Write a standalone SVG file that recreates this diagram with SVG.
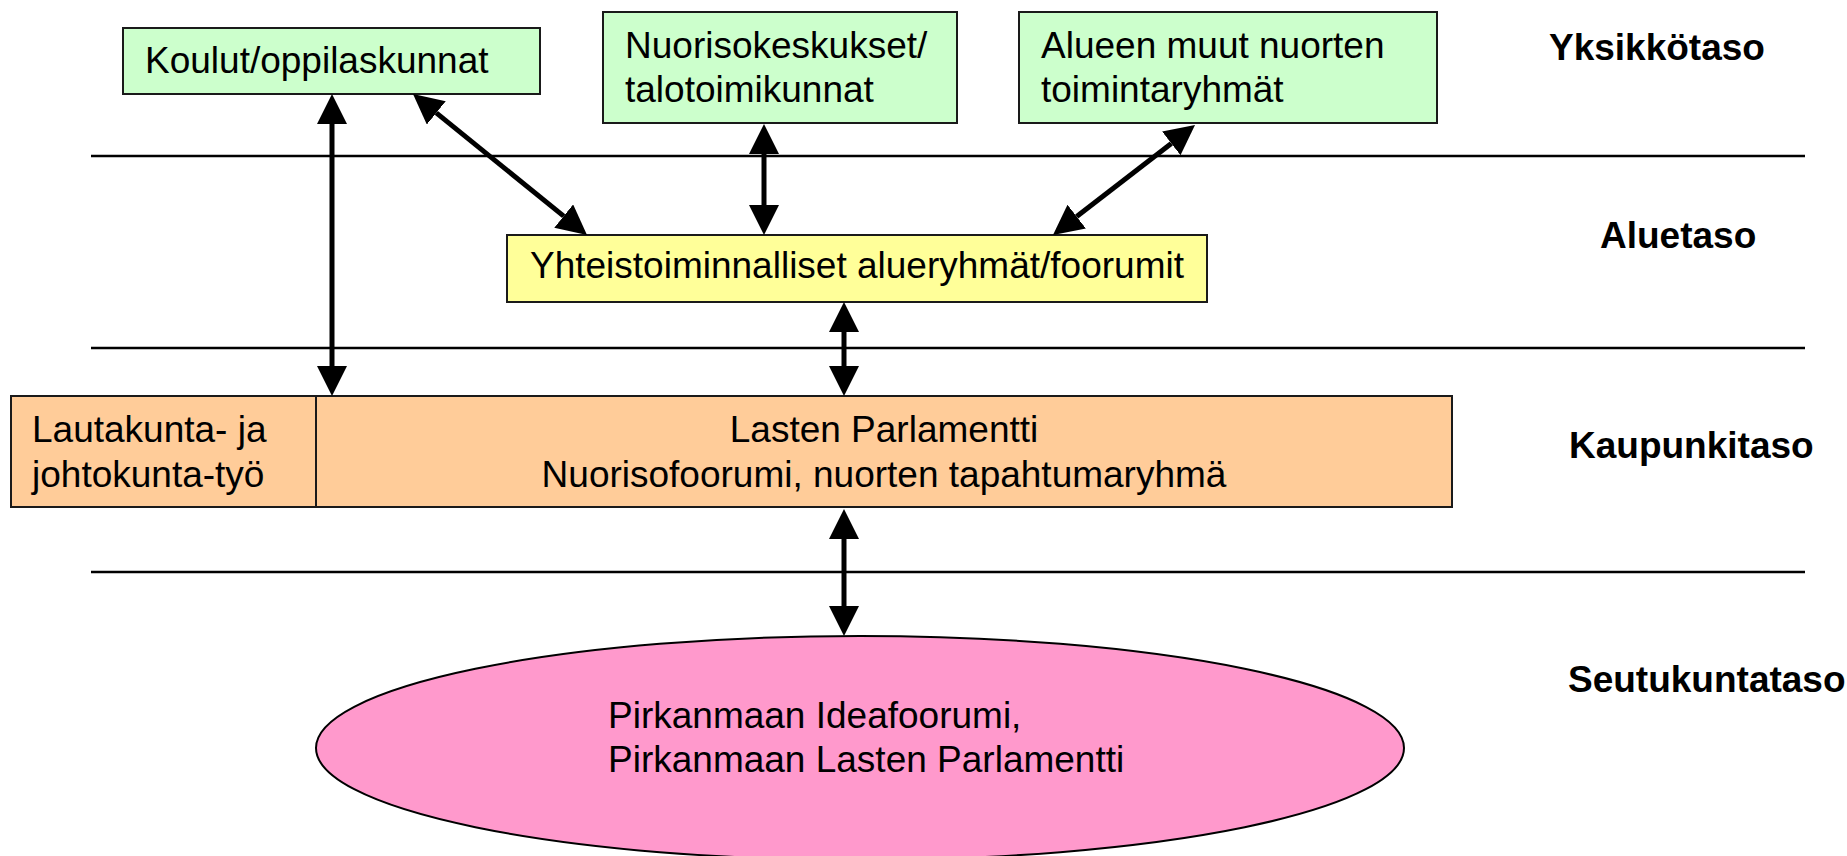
<svg xmlns="http://www.w3.org/2000/svg" width="1847" height="856" viewBox="0 0 1847 856">
<style>
.t{font-family:"Liberation Sans",Arial,sans-serif;font-size:37px;fill:#000}
.b{font-family:"Liberation Sans",Arial,sans-serif;font-size:37px;font-weight:bold;fill:#000}
.box{stroke:#1a1a1a;stroke-width:2}
.sep{stroke:#000;stroke-width:2.5}
.arr{stroke:#000;stroke-width:5;fill:none;marker-start:url(#ah);marker-end:url(#ah)}
</style>
<defs>
<marker id="ah" viewBox="0 0 30 30" refX="0" refY="15" markerWidth="30" markerHeight="30" markerUnits="userSpaceOnUse" orient="auto-start-reverse">
<path d="M0,0 L30,15 L0,30 z" fill="#000"/>
</marker>
</defs>
<rect width="1847" height="856" fill="#fff"/>
<g id="levels">
<line class="sep" x1="91" y1="156" x2="1805" y2="156"/>
<line class="sep" x1="91" y1="348" x2="1805" y2="348"/>
<line class="sep" x1="91" y1="572" x2="1805" y2="572"/>
<text class="b" x="1549" y="60">Yksikkötaso</text>
<text class="b" x="1600" y="248">Aluetaso</text>
<text class="b" x="1569" y="458">Kaupunkitaso</text>
<text class="b" x="1568" y="692">Seutukuntataso</text>
</g>
<g id="koulut">
<rect class="box" x="123" y="28" width="417" height="66" fill="#CCFFCC"/>
<text class="t" x="145" y="73">Koulut/oppilaskunnat</text>
</g>
<g id="nuorisokeskukset">
<rect class="box" x="603" y="12" width="354" height="111" fill="#CCFFCC"/>
<text class="t" x="625" y="58">Nuorisokeskukset/</text>
<text class="t" x="625" y="102">talotoimikunnat</text>
</g>
<g id="alueen">
<rect class="box" x="1019" y="12" width="418" height="111" fill="#CCFFCC"/>
<text class="t" x="1041" y="58">Alueen muut nuorten</text>
<text class="t" x="1041" y="102">toimintaryhmät</text>
</g>
<g id="alueryhmat">
<rect class="box" x="507" y="235" width="700" height="67" fill="#FFFF99"/>
<text class="t" x="530" y="278">Yhteistoiminnalliset alueryhmät/foorumit</text>
</g>
<g id="lautakunta">
<rect class="box" x="11" y="396" width="305" height="111" fill="#FFCC99"/>
<text class="t" x="32" y="442">Lautakunta- ja</text>
<text class="t" x="32" y="487">johtokunta-työ</text>
</g>
<g id="parlamentti">
<rect class="box" x="316" y="396" width="1136" height="111" fill="#FFCC99"/>
<text class="t" x="884" y="442" text-anchor="middle">Lasten Parlamentti</text>
<text class="t" x="884" y="487" text-anchor="middle">Nuorisofoorumi, nuorten tapahtumaryhmä</text>
</g>
<g id="pirkanmaa">
<ellipse cx="860" cy="748" rx="544" ry="112" fill="#FF99CC" stroke="#000" stroke-width="2"/>
<text class="t" x="608" y="728">Pirkanmaan Ideafoorumi,</text>
<text class="t" x="608" y="772">Pirkanmaan Lasten Parlamentti</text>
</g>
<g id="connectors">
<line class="arr" x1="332" y1="124" x2="332" y2="366"/>
<line class="arr" x1="436.3" y1="112.9" x2="563.7" y2="216.1"/>
<line class="arr" x1="764" y1="154" x2="764" y2="205"/>
<line class="arr" x1="1171.3" y1="143.4" x2="1076.7" y2="216.6"/>
<line class="arr" x1="844" y1="332" x2="844" y2="366"/>
<line class="arr" x1="844" y1="539" x2="844" y2="606"/>
</g>
</svg>
